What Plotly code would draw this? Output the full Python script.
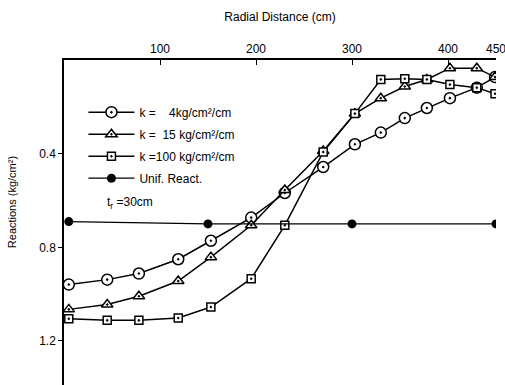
import plotly.graph_objects as go

# Radial positions (cm)
r = [5, 45, 78, 119, 153, 195, 230, 270, 303, 330, 355, 378, 402, 430, 449]
# Reactions (kg/cm^2)
k4 = [0.959, 0.938, 0.912, 0.851, 0.772, 0.673, 0.568, 0.457, 0.360, 0.310, 0.248, 0.205, 0.163, 0.118, 0.073]
k15 = [1.065, 1.044, 1.009, 0.944, 0.842, 0.706, 0.555, 0.389, 0.229, 0.163, 0.113, 0.083, 0.035, 0.035, 0.073]
k100 = [1.105, 1.112, 1.112, 1.102, 1.055, 0.934, 0.706, 0.393, 0.229, 0.083, 0.080, 0.083, 0.105, 0.118, 0.144]
r_unif = [5, 150, 300, 450]
unif = [0.69, 0.70, 0.70, 0.70]

names = ["k =\u00a0\u00a0\u00a0\u00a04kg/cm\u00b2/cm",
         "k =\u00a0\u00a015 kg/cm\u00b2/cm",
         "k =100 kg/cm\u00b2/cm",
         "Unif. React."]

x_ticks = [100, 200, 300, 400, 450]
y_ticks = [0.4, 0.8, 1.2]
y_ticktext = ["0.4", "0.8", "1.2"]

fig = go.Figure()
common_line = dict(color="black", width=1.5)
fig.add_trace(go.Scatter(x=r, y=k4, name=names[0], mode="lines+markers", legendgroup="a",
                         line=common_line,
                         marker=dict(symbol="circle-dot", size=11, color="white",
                                     line=dict(color="black", width=1.5))))
fig.add_trace(go.Scatter(x=r, y=k15, name=names[1], mode="lines+markers", legendgroup="b",
                         line=common_line,
                         marker=dict(symbol="triangle-up-dot", size=10, color="white",
                                     line=dict(color="black", width=1.5))))
fig.add_trace(go.Scatter(x=r, y=k100, name=names[2], mode="lines+markers", legendgroup="c",
                         line=common_line,
                         marker=dict(symbol="square-dot", size=8, color="white",
                                     line=dict(color="black", width=1.5))))
fig.add_trace(go.Scatter(x=r_unif, y=unif, name=names[3], mode="lines+markers", legendgroup="d",
                         line=dict(color="black", width=1.2),
                         marker=dict(symbol="circle", size=9, color="black")))

font = dict(family="Liberation Sans, Arial, sans-serif", size=12, color="black")

fig.update_layout(
    width=505, height=385,
    margin=dict(l=64, r=9, t=60, b=0),
    paper_bgcolor="white", plot_bgcolor="white",
    font=font,
    showlegend=True,
    legend=dict(x=0.045, y=0.884, xanchor="left", yanchor="top",
                bgcolor="rgba(0,0,0,0)", font=dict(size=12, family=font["family"]),
                tracegroupgap=3, itemwidth=46),
    xaxis=dict(side="top", range=[0, 450], tickvals=x_ticks, ticks="inside", ticklen=5,
               tickcolor="black", showline=True, linecolor="black", linewidth=1.5,
               showgrid=False, zeroline=False, ticklabeloverflow="allow",
               title=dict(text="Radial Distance (cm)", standoff=18, font=dict(size=12))),
    yaxis=dict(range=[1.388, 0], tickvals=y_ticks, ticktext=y_ticktext, ticks="outside",
               ticklen=4, tickcolor="black", showline=True, linecolor="black", linewidth=1.5,
               showgrid=False, zeroline=False),
    annotations=[
        dict(text="t<sub>r</sub> =30cm", x=0.095, y=0.56, xref="paper", yref="paper",
             xanchor="left", yanchor="middle", showarrow=False, font=dict(size=12)),
        dict(text="Reactions (kg/cm\u00b2)", x=-0.12, y=0.563, xref="paper", yref="paper",
             xanchor="center", yanchor="middle", textangle=-90, showarrow=False,
             font=dict(size=11)),
    ],
)

fig.write_html("out.html")
